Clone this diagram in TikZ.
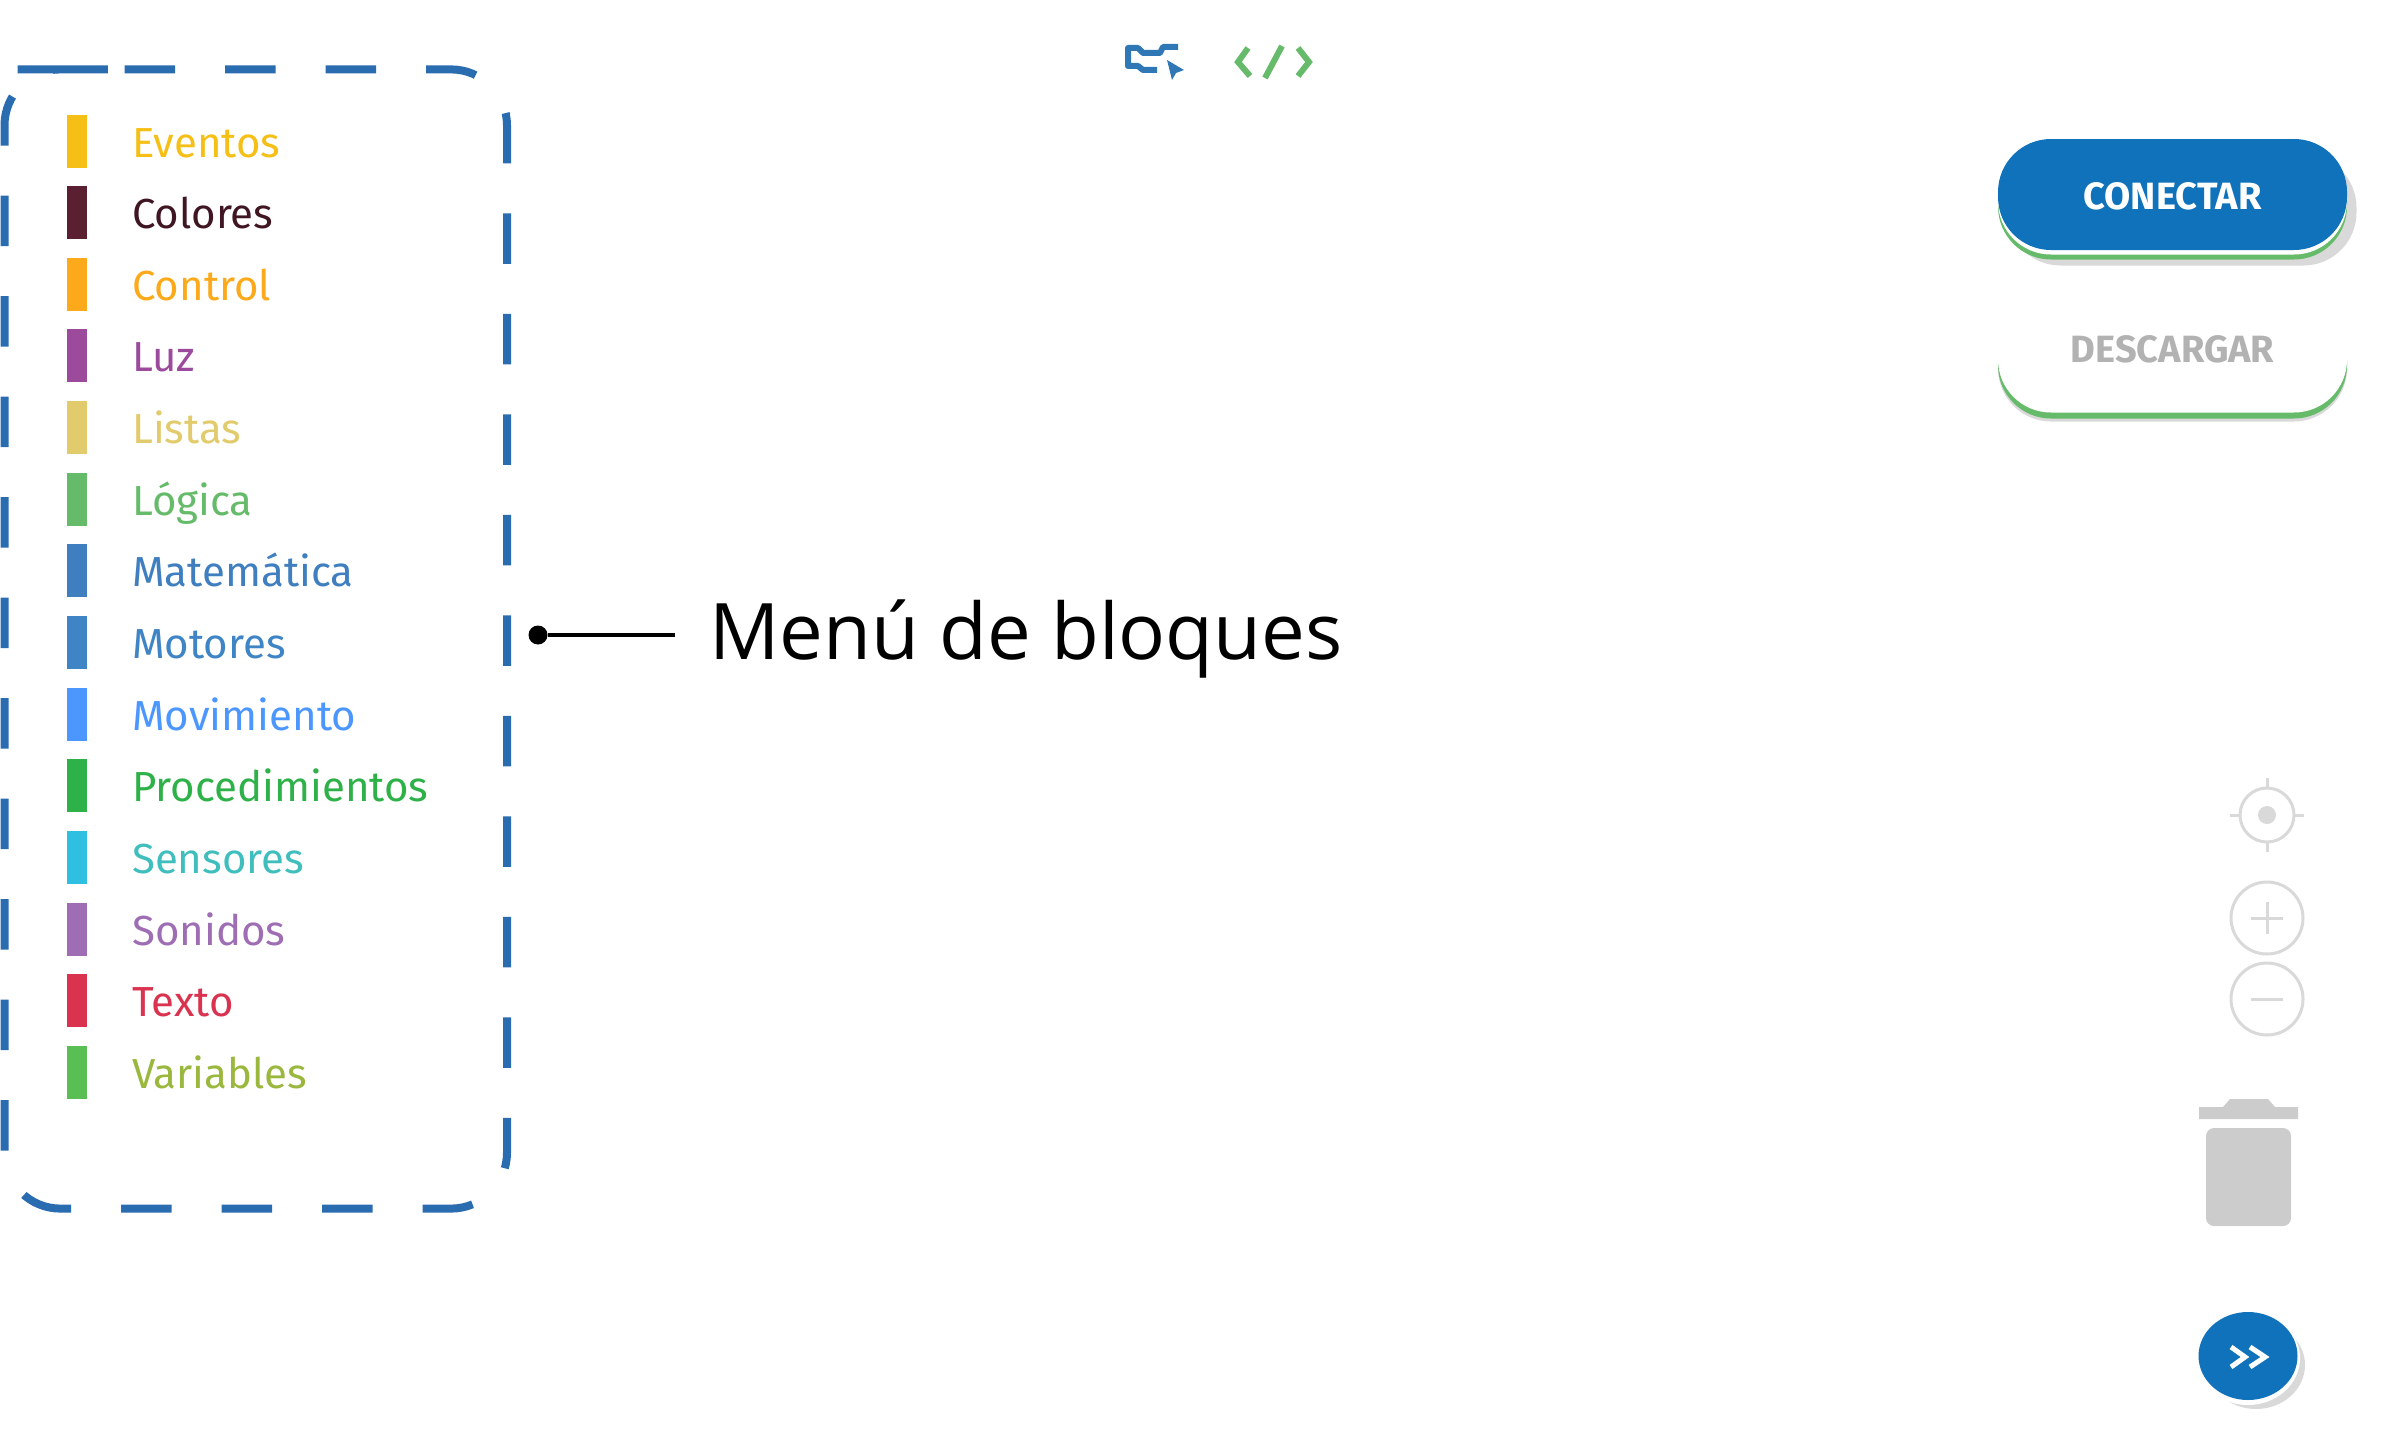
\documentclass[tikz,border=0pt]{standalone}
\usepackage{fontspec}
\setmainfont{Fira Sans}
\newfontfamily\labelfont{Open Sans}
\definecolor{boxblue}{HTML}{2A6CB0}
\definecolor{btnblue}{HTML}{0F72BA}
\definecolor{btngreen}{HTML}{66BB6A}
\definecolor{btnpurple}{HTML}{8A10D0}
\definecolor{iconblue}{HTML}{2F78B5}
\definecolor{lightgrey}{HTML}{D9D9D9}
\definecolor{trashgrey}{HTML}{CCCCCC}
\definecolor{colEventos}{HTML}{F5BF15}
\definecolor{colColores}{HTML}{5A1F30}
\definecolor{colControl}{HTML}{FCAA1B}
\definecolor{colLuz}{HTML}{9B4A9C}
\definecolor{colListas}{HTML}{E2CB6C}
\definecolor{colLogica}{HTML}{66BB6A}
\definecolor{colMate}{HTML}{3F7FC0}
\definecolor{colMotores}{HTML}{3F85C5}
\definecolor{colMov}{HTML}{4C97FF}
\definecolor{colProc}{HTML}{2FB14A}
\definecolor{colSens}{HTML}{2FBFE0}
\definecolor{colSon}{HTML}{9E6DB3}
\definecolor{colTexto}{HTML}{D93350}
\definecolor{colVar}{HTML}{59BF55}
\tikzset{
	menubar/.style={draw=none,inner sep=0pt,minimum width=20pt,minimum height=53pt},
	menutext/.style={anchor=base west,inner sep=0pt,font=\fontsize{42}{42}\selectfont},
	btnshape/.style={draw=none,rounded corners=53pt,inner sep=0pt,minimum width=349pt,minimum height=111pt},
	btntext/.style={inner sep=0pt,font=\fontsize{38}{38}\selectfont\bfseries},
	zoomring/.style={circle,draw=lightgrey,line width=3pt,inner sep=0pt,minimum size=72pt},
}
\begin{document}
\begin{tikzpicture}[x=1pt,y=-1pt]
	\useasboundingbox (0,0) rectangle (2399,1429);

	% dashed box
	\draw[boxblue,line width=8pt,rounded corners=56pt,dash pattern=on 50.5pt off 50pt]
		(68.5,69.4) -- (507,69.4) -- (507,1208.6) -- (4.5,1208.6) -- (4.5,69.4) -- cycle;

	% colour bars
	\begin{scope}[every node/.style={menubar}]
		\node[fill=colEventos] (barEventos) at (76.5,141) {};
		\node[fill=colColores] (barColores) at (76.5,212.65) {};
		\node[fill=colControl] (barControl) at (76.5,284.3) {};
		\node[fill=colLuz] (barLuz) at (76.5,355.95) {};
		\node[fill=colListas] (barListas) at (76.5,427.6) {};
		\node[fill=colLogica] (barLogica) at (76.5,499.25) {};
		\node[fill=colMate] (barMate) at (76.5,570.9) {};
		\node[fill=colMotores] (barMotores) at (76.5,642.55) {};
		\node[fill=colMov] (barMov) at (76.5,714.2) {};
		\node[fill=colProc] (barProc) at (76.5,785.85) {};
		\node[fill=colSens] (barSens) at (76.5,857.5) {};
		\node[fill=colSon] (barSon) at (76.5,929.15) {};
		\node[fill=colTexto] (barTexto) at (76.5,1000.8) {};
		\node[fill=colVar] (barVar) at (76.5,1072.45) {};
	\end{scope}

	% names
	\begin{scope}[every node/.style={menutext}]
		\node[text=colEventos] (txtEventos) at (132,157) {Eventos};
		\node[text=colColores!70!black] (txtColores) at (132,228.65) {Colores};
		\node[text=colControl] (txtControl) at (132,300.3) {Control};
		\node[text=colLuz] (txtLuz) at (132,371.95) {Luz};
		\node[text=colListas] (txtListas) at (132,443.6) {Listas};
		\node[text=colLogica] (txtLogica) at (132,515.25) {Lógica};
		\node[text=colMate] (txtMate) at (132,586.9) {Matemática};
		\node[text=colMotores] (txtMotores) at (132,658.55) {Motores};
		\node[text=colMov] (txtMov) at (132,730.2) {Movimiento};
		\node[text=colProc] (txtProc) at (132,801.85) {Procedimientos};
		\node[text=colSens!70!colLogica] (txtSens) at (132,873.5) {Sensores};
		\node[text=colSon] (txtSon) at (132,945.15) {Sonidos};
		\node[text=colTexto] (txtTexto) at (132,1016.8) {Texto};
		\node[text=colVar!60!colControl] (txtVar) at (132,1088.45) {Variables};
	\end{scope}

	% label
	\node[circle,fill=black,inner sep=0pt,minimum size=19pt] (dot) at (538,635) {};
	\node[anchor=base west,inner sep=0pt,font=\labelfont\fontsize{78}{78}\selectfont] (menuLabel) at (709,659) {Menú de bloques};
	\draw[line width=4pt] (dot) -- ([xshift=-34pt]dot -| menuLabel.west);

	% top icons
	\draw[iconblue,line width=6pt,line join=round] (1157,70) -- (1143,70) -- (1138,66) -- (1128,66) -- (1128,48) -- (1138,48) -- (1143,53) -- (1160,53) -- (1163,47) -- (1178,47);
	\fill[iconblue] (1167,60) -- (1184,70) -- (1176,73) -- (1172,80) -- cycle;
	\draw[btngreen,line width=6pt] (1248,48) -- (1238,62) -- (1250,76);
	\draw[btngreen,line width=6pt] (1265,78) -- (1282,46);
	\draw[btngreen,line width=6pt] (1298,48) -- (1309,62) -- (1298,76);

	% conectar
	\node[btnshape,fill=black,opacity=0.15] (conShadow) at (2182,210) {};
	\node[btnshape,fill=btngreen] (conEdge) at (2172.5,204) {};
	\node[btnshape,fill=white] (conGap) at (2172.5,199) {};
	\node[btnshape,fill=btnblue] (conectar) at (2172.5,194.5) {};
	\node[btntext,text=white] (conText) at (2172.5,196) {CONECTAR};

	% descargar
	\node[btnshape,fill=black,opacity=0.15] (desShadow) at (2172.5,366) {};
	\node[btnshape,fill=btngreen] (desEdge) at (2172.5,363) {};
	\node[btnshape,fill=white] (descargar) at (2172.5,357) {};
	\node[btntext,text=black!30] (desText) at (2172.5,349) {DESCARGAR};

	% zoom controls
	\draw[lightgrey,line width=3pt] (2267,815) circle (27);
	\fill[lightgrey] (2267,815) circle (9);
	\draw[lightgrey,line width=3pt] (2267,778) -- (2267,788) (2267,842) -- (2267,852) (2230,815) -- (2240,815) (2294,815) -- (2304,815);
	\node[zoomring] (plusBtn) at (2267,918) {};
	\draw[lightgrey,line width=3pt] (2251,918) -- (2283,918) (2267,902) -- (2267,934);
	\node[zoomring] (minusBtn) at (2267,999) {};
	\draw[lightgrey,line width=3pt] (2251,999) -- (2283,999);

	% trash
	\fill[trashgrey] (2199,1107) -- (2223,1107) -- (2230,1099) -- (2268,1099) -- (2275,1107) -- (2298,1107) -- (2298,1119) -- (2199,1119) -- cycle;
	\fill[trashgrey,rounded corners=8pt] (2206,1128) -- (2291,1128) -- (2291,1226) -- (2206,1226) -- cycle;

	% more button
	\fill[black,opacity=0.15] (2256,1365) ellipse (49 and 44);
	\fill[white] (2248,1358) ellipse (52 and 47);
	\fill[btnblue] (2248,1356) ellipse (49.5 and 44);
	\draw[white,line width=5pt] (2231,1347) -- (2245,1357) -- (2231,1367) (2250,1347) -- (2265,1357) -- (2250,1367);
\end{tikzpicture}
\end{document}
